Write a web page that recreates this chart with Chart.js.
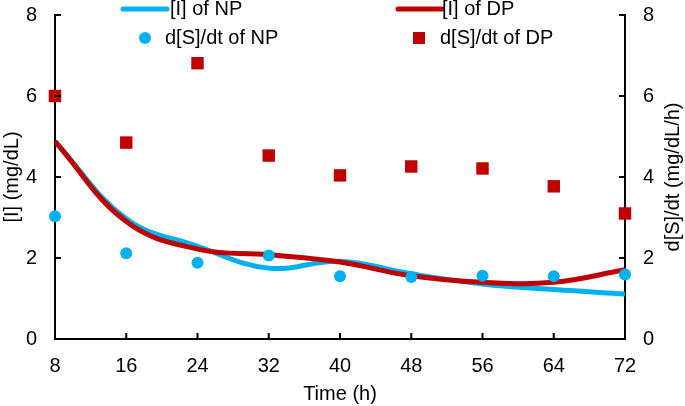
<!DOCTYPE html>
<html>
<head>
<meta charset="utf-8">
<script src="https://cdn.jsdelivr.net/npm/chart.js@4/dist/chart.umd.min.js"></script>
<style>
  html, body { margin: 0; padding: 0; background: #fff; }
  #wrap { width: 685px; height: 406px; }
</style>
</head>
<body>
<div id="wrap"><canvas id="chart" width="685" height="406"></canvas></div>
<script>
// values
const hours = [8, 16, 24, 32, 40, 48, 56, 64, 72];
const iNP = [4.88, 2.97, 2.29, 1.75, 1.92, 1.61, 1.36, 1.22, 1.11];
const iDP = [4.88, 2.90, 2.22, 2.08, 1.90, 1.56, 1.40, 1.40, 1.71];
const rateNP = [3.03, 2.12, 1.88, 2.06, 1.55, 1.53, 1.56, 1.55, 1.59];
const rateDP = [6.00, 4.85, 6.81, 4.53, 4.04, 4.26, 4.21, 3.77, 3.10];
const yTicks = [0, 2, 4, 6, 8];

const BLUE = "#00b0f0";
const RED = "#c00000";
const FONT = "'Liberation Sans', Arial, sans-serif";

const pts = (ys) => hours.map((h, i) => ({ x: h, y: ys[i] }));

// tick marks drawn inside the plot, like the original
const innerTicks = {
    id: "innerTicks",
    afterDraw(chart) {
        const { ctx, chartArea: a, scales } = chart;
        ctx.save();
        ctx.strokeStyle = "#000";
        ctx.lineWidth = 2;
        ctx.beginPath();
        hours.forEach((h) => {
            const px = scales.x.getPixelForValue(h);
            ctx.moveTo(px, a.bottom);
            ctx.lineTo(px, a.bottom - 6);
        });
        yTicks.forEach((v) => {
            const py = scales.y.getPixelForValue(v);
            ctx.moveTo(a.left, py);
            ctx.lineTo(a.left + 6, py);
            const py2 = scales.y2.getPixelForValue(v);
            ctx.moveTo(a.right, py2);
            ctx.lineTo(a.right - 6, py2);
        });
        ctx.stroke();

        // right axis title reads bottom to top
        ctx.fillStyle = "#000";
        ctx.font = "20px " + FONT;
        ctx.textAlign = "center";
        ctx.textBaseline = "middle";
        ctx.translate(673, (a.top + a.bottom) / 2);
        ctx.rotate(-Math.PI / 2);
        ctx.fillText("d[S]/dt (mg/dL/h)", 0, 0);
        ctx.restore();
    },
};

// legend in two columns, overlapping the top of the plot
const legendBox = {
    id: "legendBox",
    afterDraw(chart) {
        const ctx = chart.ctx;
        const cols = [123, 398];
        const rows = [9, 38];
        ctx.save();
        ctx.font = "20px " + FONT;
        ctx.textBaseline = "middle";
        ctx.textAlign = "left";
        ctx.lineWidth = 5;
        ctx.lineCap = "round";
        [BLUE, RED].forEach((c, i) => {
            ctx.strokeStyle = c;
            ctx.beginPath();
            ctx.moveTo(cols[i], rows[0]);
            ctx.lineTo(cols[i] + 44, rows[0]);
            ctx.stroke();
        });
        ctx.fillStyle = "#000";
        ctx.fillText("[I] of NP", cols[0] + 47, rows[0]);
        ctx.fillText("[I] of DP", cols[1] + 44, rows[0]);

        ctx.fillStyle = BLUE;
        ctx.beginPath();
        ctx.arc(cols[0] + 22, rows[1], 6, 0, Math.PI * 2);
        ctx.fill();
        ctx.fillStyle = RED;
        ctx.fillRect(cols[1] + 21 - 6, rows[1] - 6, 12, 12);

        ctx.fillStyle = "#000";
        ctx.fillText("d[S]/dt of NP", cols[0] + 42, rows[1]);
        ctx.fillText("d[S]/dt of DP", cols[1] + 42, rows[1]);
        ctx.restore();
    },
};

// keep the plot edges where the original has them
const fitY = (w) => (s) => {
    s.width = w;
    s.paddingTop = 0;
    s.paddingBottom = 0;
};

Chart.defaults.font.family = FONT;
Chart.defaults.font.size = 20;
Chart.defaults.color = "#000";

new Chart(document.getElementById("chart"), {
    type: "line",
    data: {
        datasets: [
            {
                label: "d[S]/dt of NP",
                data: pts(rateNP),
                yAxisID: "y2",
                showLine: false,
                pointStyle: "circle",
                pointRadius: 6,
                backgroundColor: BLUE,
                borderColor: BLUE,
                borderWidth: 0,
                clip: false,
                order: 0,
            },
            {
                label: "d[S]/dt of DP",
                data: pts(rateDP),
                yAxisID: "y2",
                showLine: false,
                pointStyle: "rect",
                pointRadius: 8.8,
                backgroundColor: RED,
                borderColor: RED,
                borderWidth: 0,
                clip: false,
                order: 1,
            },
            {
                label: "[I] of DP",
                data: pts(iDP),
                yAxisID: "y",
                borderColor: RED,
                borderWidth: 5,
                pointRadius: 0,
                tension: 0.4,
                order: 2,
            },
            {
                label: "[I] of NP",
                data: pts(iNP),
                yAxisID: "y",
                borderColor: BLUE,
                borderWidth: 5,
                pointRadius: 0,
                tension: 0.4,
                order: 3,
            },
        ],
    },
    options: {
        responsive: false,
        animation: false,
        layout: { padding: { top: 15, right: 0, left: 0, bottom: 0 } },
        plugins: {
            legend: { display: false },
            tooltip: { enabled: false },
        },
        scales: {
            x: {
                type: "linear",
                min: 8,
                max: 72,
                afterBuildTicks: (s) => { s.ticks = hours.map((v) => ({ value: v })); },
                grid: { display: false, drawTicks: false },
                border: { display: true, color: "#000", width: 2 },
                ticks: { padding: 15 },
                title: { display: true, text: "Time (h)", padding: { top: 2, bottom: 0 } },
                afterFit: (s) => { s.height = 67; },
            },
            y: {
                position: "left",
                min: 0,
                max: 8,
                ticks: { stepSize: 2, padding: 18 },
                grid: { display: false, drawTicks: false },
                border: { display: true, color: "#000", width: 2 },
                title: { display: true, text: "[I] (mg/dL)", padding: 0 },
                afterFit: fitY(55),
            },
            y2: {
                position: "right",
                min: 0,
                max: 8,
                ticks: { stepSize: 2, padding: 18 },
                grid: { display: false, drawTicks: false },
                border: { display: true, color: "#000", width: 2 },
                afterFit: fitY(60),
            },
        },
    },
    plugins: [innerTicks, legendBox],
});
</script>
</body>
</html>
